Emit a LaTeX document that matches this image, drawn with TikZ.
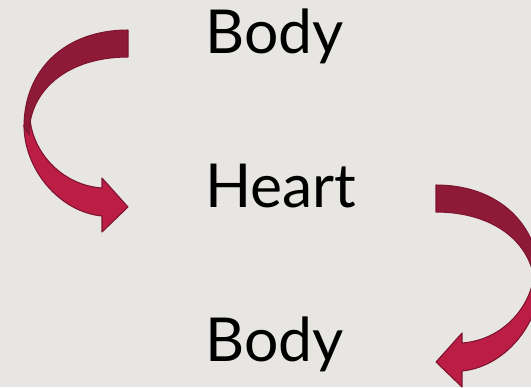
\documentclass[tikz,border=0pt]{standalone}
\usepackage{fontspec}
\setmainfont{Lato}
\usetikzlibrary{positioning}
\definecolor{paper}{RGB}{232,230,226}
\definecolor{wineback}{RGB}{142,26,56}
\definecolor{winefront}{RGB}{188,29,69}
\definecolor{wineedge}{RGB}{125,20,48}

\begin{document}
\begin{tikzpicture}[x=0.02cm,y=-0.02cm,
        word/.style={anchor=base west,inner sep=0pt,
                     font=\fontsize{34.5}{40}\selectfont},
        backpart/.style={fill=wineback,draw=wineedge,line width=0.6pt,line join=round},
        frontpart/.style={fill=winefront,draw=wineedge,line width=0.6pt,line join=round},
        bentarrow/.pic={
            \path[frontpart] (-104,95) .. controls (-104,140) and (-68,182) .. (-26,186)
                -- (-26,202) -- (0,177) -- (-26,148) -- (-26,158)
                .. controls (-68,155) and (-96,120) .. (-98,88) -- cycle;
            \path[backpart] (0,0) .. controls (-62,0) and (-104,39) .. (-104,97)
                -- (-99,105) .. controls (-99,59) and (-59,27) .. (0,27) -- cycle;
        }]
    \useasboundingbox (0,0) rectangle (531,387);
    \fill[paper] (0,0) rectangle (531,387);
    \clip (0,0) rectangle (531,387);
    % the three words
    \node[word] (body1) at (205,53) {Body};
    \node[word] (heart) at (205,207) {Heart};
    \node[word] (body2) at (205,361) {Body};
    % the two bent arrows
    \pic at (128,30) {bentarrow};
    \pic[xscale=-1] at (436,185) {bentarrow};
\end{tikzpicture}
\end{document}
